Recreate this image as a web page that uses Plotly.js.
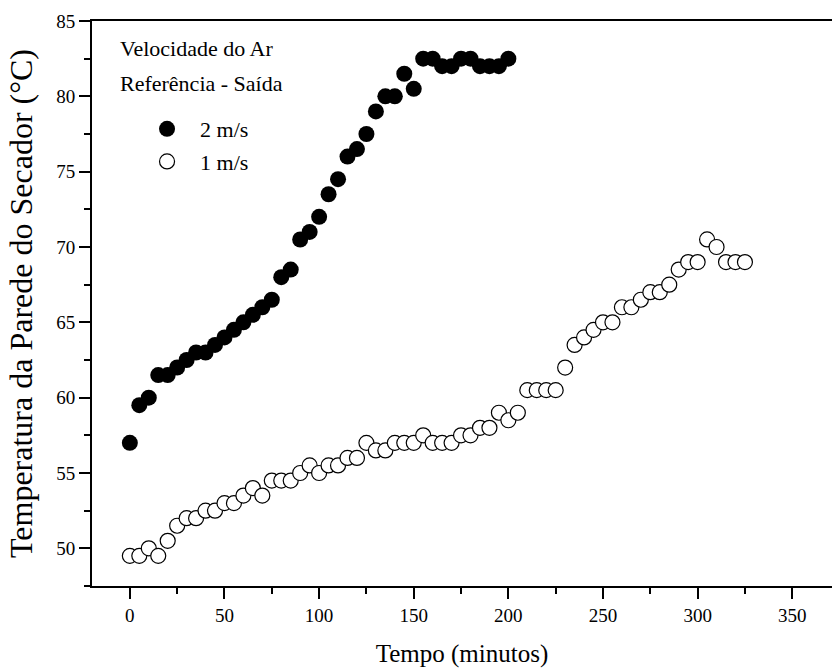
<!DOCTYPE html>
<html>
<head>
<meta charset="utf-8">
<script src="https://cdn.plot.ly/plotly-3.0.1.min.js"></script>
<style>html,body{margin:0;padding:0;background:#fff;}#chart{width:832px;height:670px;}</style>
</head>
<body>
<div id="chart"></div>
<script>
// 2 m/s series (filled circles)
const time2 = [0,5,10,15,20,25,30,35,40,45,50,55,60,65,70,75,80,85,90,95,100,105,110,115,120,125,130,135,140,145,150,155,160,165,170,175,180,185,190,195,200];
const temp2 = [57,59.5,60,61.5,61.5,62,62.5,63,63,63.5,64,64.5,65,65.5,66,66.5,68,68.5,70.5,71,72,73.5,74.5,76,76.5,77.5,79,80,80,81.5,80.5,82.5,82.5,82,82,82.5,82.5,82,82,82,82.5];
// 1 m/s series (open circles)
const time1 = [0,5,10,15,20,25,30,35,40,45,50,55,60,65,70,75,80,85,90,95,100,105,110,115,120,125,130,135,140,145,150,155,160,165,170,175,180,185,190,195,200,205,210,215,220,225,230,235,240,245,250,255,260,265,270,275,280,285,290,295,300,305,310,315,320,325];
const temp1 = [49.5,49.5,50,49.5,50.5,51.5,52,52,52.5,52.5,53,53,53.5,54,53.5,54.5,54.5,54.5,55,55.5,55,55.5,55.5,56,56,57,56.5,56.5,57,57,57,57.5,57,57,57,57.5,57.5,58,58,59,58.5,59,60.5,60.5,60.5,60.5,62,63.5,64,64.5,65,65,66,66,66.5,67,67,67.5,68.5,69,69,70.5,70,69,69,69];
const seriesNames = ["2 m/s", "1 m/s"];
const legendHeader = ["Velocidade do Ar", "Referência - Saída"];
const xTitle = "Tempo (minutos)";
const yTitle = "Temperatura da Parede do Secador (°C)";

const FONT = "Liberation Serif, Times New Roman, serif";

const traces = [
  {x: time2, y: temp2, type: "scatter", mode: "markers", name: seriesNames[0], legendgroup: "a",
   marker: {symbol: "circle", size: 16, color: "#000000", line: {width: 0}}},
  {x: time1, y: temp1, type: "scatter", mode: "markers", name: seriesNames[1], legendgroup: "b",
   marker: {symbol: "circle", size: 15, color: "#ffffff", line: {width: 1.2, color: "#000000"}}}
];

const layout = {
  width: 832, height: 670,
  margin: {l: 92, r: 0, t: 21, b: 84},
  paper_bgcolor: "#ffffff", plot_bgcolor: "#ffffff",
  font: {family: FONT, color: "#000000", size: 19},
  showlegend: true,
  legend: {x: 0.0568, xanchor: "left", y: 0.846, yanchor: "top", bgcolor: "rgba(0,0,0,0)",
           font: {family: FONT, size: 22, color: "#000"}, itemwidth: 56, tracegroupgap: 1},
  xaxis: {
    range: [-20, 371], showgrid: false, zeroline: false,
    showline: true, linecolor: "#000", linewidth: 2, mirror: true,
    ticks: "outside", ticklen: 11, tickwidth: 2, tickcolor: "#000",
    dtick: 50, tick0: 0,
    minor: {dtick: 25, ticks: "outside", ticklen: 6, tickwidth: 2, tickcolor: "#000", showgrid: false},
    tickfont: {family: FONT, size: 19},
    title: {text: xTitle, font: {family: FONT, size: 25}, standoff: 20}
  },
  yaxis: {
    range: [47.5, 85], showgrid: false, zeroline: false,
    showline: true, linecolor: "#000", linewidth: 2, mirror: false,
    ticks: "outside", ticklen: 11, tickwidth: 2, tickcolor: "#000",
    dtick: 5, tick0: 50,
    minor: {dtick: 2.5, ticks: "outside", ticklen: 6, tickwidth: 2, tickcolor: "#000", showgrid: false},
    tickfont: {family: FONT, size: 19},
    title: {text: yTitle, font: {family: FONT, size: 32}, standoff: 14}
  },
  annotations: [
    {text: legendHeader[0], xref: "paper", yref: "paper", x: 0.0351, y: 0.952, xanchor: "left", yanchor: "middle",
     showarrow: false, font: {family: FONT, size: 22}},
    {text: legendHeader[1], xref: "paper", yref: "paper", x: 0.0351, y: 0.8885, xanchor: "left", yanchor: "middle",
     showarrow: false, font: {family: FONT, size: 22}}
  ]
};

Plotly.newPlot("chart", traces, layout, {displayModeBar: false, staticPlot: true});
</script>
</body>
</html>
